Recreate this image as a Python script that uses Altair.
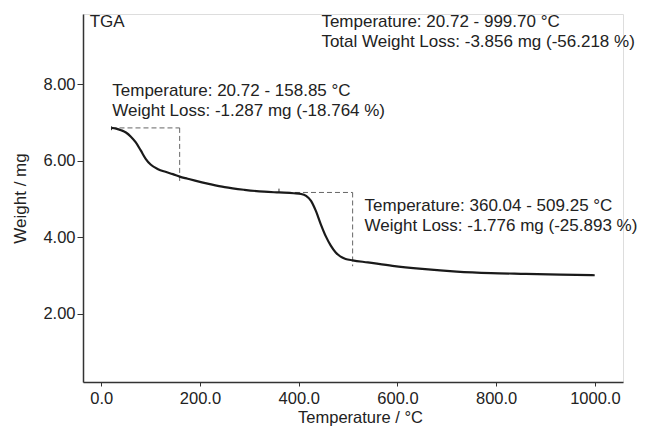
import altair as alt
import pandas as pd

# TGA curve (Temperature in °C, Weight in mg)
temp = [20.72, 30, 40, 50, 60, 70, 80, 90, 100, 115, 130, 145, 158.85, 175, 190,
        220, 250, 290, 330, 360.04, 390, 405, 415, 425, 435, 445, 455, 465, 475,
        485, 495, 509.25, 540, 590, 650, 720, 790, 860, 930, 999.70]
weight = [6.859, 6.84, 6.80, 6.74, 6.63, 6.48, 6.27, 6.05, 5.90, 5.78, 5.71, 5.65, 5.585,
          5.53, 5.48, 5.39, 5.31, 5.24, 5.19, 5.17, 5.15, 5.13, 5.08, 4.95, 4.68,
          4.33, 4.02, 3.78, 3.60, 3.49, 3.43, 3.394, 3.34, 3.25, 3.17, 3.10, 3.06,
          3.04, 3.02, 3.003]

# Step-marker dashed segments
seg_x = [20.72, 158.85, 360.04, 509.25]
seg_x2 = [158.85, 158.85, 509.25, 509.25]
seg_y = [6.859, 6.859, 5.17, 5.17]
seg_y2 = [6.859, 5.45, 5.17, 3.24]

# Small solid start ticks
tick_x = [20.72, 360.04]
tick_y = [6.80, 5.17]
tick_y2 = [6.90, 5.27]

# Annotation texts
ann_x = [-23.5, 446, 22.3, 533.5]
ann_y = [9.49, 9.49, 7.69, 4.69]
ann_text = [
    ["TGA"],
    ["Temperature: 20.72 - 999.70 °C", "Total Weight Loss: -3.856 mg (-56.218 %)"],
    ["Temperature: 20.72 - 158.85 °C", "Weight Loss: -1.287 mg (-18.764 %)"],
    ["Temperature: 360.04 - 509.25 °C", "Weight Loss: -1.776 mg (-25.893 %)"],
]

FONT = "Liberation Sans"
INK = "#222222"

xscale = alt.Scale(domain=[-37, 1057], nice=False, zero=False)
yscale = alt.Scale(domain=[0.21, 9.84], nice=False, zero=False)

curve_df = pd.DataFrame({"T": temp, "W": weight})
seg_df = pd.DataFrame({"x": seg_x, "x2": seg_x2, "y": seg_y, "y2": seg_y2})
tick_df = pd.DataFrame({"x": tick_x, "y": tick_y, "y2": tick_y2})
ann_df = pd.DataFrame({"x": ann_x, "y": ann_y, "t": ann_text})

x_axis = alt.Axis(
    title="Temperature / °C", values=[0, 200, 400, 600, 800, 1000], format=".1f",
    grid=False, domainColor="#333333", domainWidth=1.5, tickColor="#333333",
    tickSize=4, labelPadding=4, labelFontSize=16.5, labelFont=FONT, labelColor=INK,
    titleFont=FONT, titleFontSize=16.5, titleFontWeight="normal", titleColor=INK,
    titleX=277, titleY=40, titleBaseline="alphabetic", titleAnchor="start",
    titleAlign="center",
)
y_axis = alt.Axis(
    title="Weight / mg", values=[2, 4, 6, 8], format=".2f",
    grid=False, domainColor="#333333", domainWidth=1.5, tickColor="#333333",
    tickSize=6, labelPadding=2, labelFontSize=16.5, labelFont=FONT, labelColor=INK,
    titleFont=FONT, titleFontSize=17, titleFontWeight="normal", titleColor=INK,
    titleX=-58, titleY=184, titleBaseline="alphabetic", titleAngle=-90,
    titleAlign="center",
)

curve = alt.Chart(curve_df).mark_line(
    color="#1a1a1a", strokeWidth=2.2, interpolate="monotone"
).encode(
    x=alt.X("T:Q", scale=xscale, axis=x_axis),
    y=alt.Y("W:Q", scale=yscale, axis=y_axis),
)

segs = alt.Chart(seg_df).mark_rule(
    color="#666666", strokeWidth=1, strokeDash=[5, 3]
).encode(
    x=alt.X("x:Q", scale=xscale), x2="x2:Q",
    y=alt.Y("y:Q", scale=yscale), y2="y2:Q",
)

ticks = alt.Chart(tick_df).mark_rule(color="#333333", strokeWidth=1).encode(
    x=alt.X("x:Q", scale=xscale),
    y=alt.Y("y:Q", scale=yscale), y2="y2:Q",
)

texts = alt.Chart(ann_df).mark_text(
    align="left", baseline="alphabetic", font=FONT, fontSize=17,
    lineHeight=20, color=INK,
).encode(
    x=alt.X("x:Q", scale=xscale),
    y=alt.Y("y:Q", scale=yscale),
    text="t",
)

chart = alt.layer(segs, ticks, curve, texts).properties(
    width=540, height=368,
    autosize=alt.AutoSizeParams(type="none"),
    padding={"left": 75, "top": 6, "right": 16, "bottom": 44},
).configure_view(stroke=None).configure(background="white")

chart.save("out.html", embed_options={"renderer": "svg", "actions": False})
